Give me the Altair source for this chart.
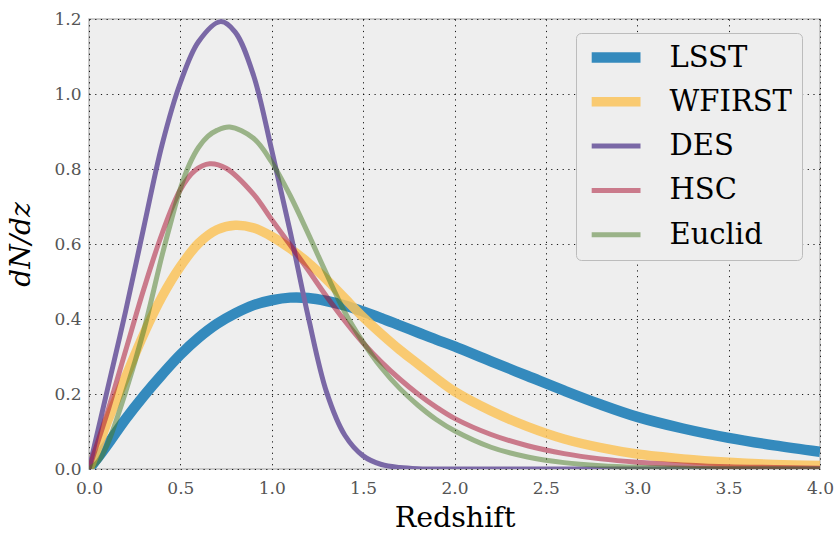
import altair as alt
import pandas as pd

series_names = ["LSST", "WFIRST", "DES", "HSC", "Euclid"]
series_colors = ["#348ABD", "rgba(250,195,90,0.85)", "#7A68A6",
                 "rgba(166,6,40,0.5)", "rgba(70,120,33,0.5)"]
series_widths = [10.5, 9.5, 5, 5, 5]

x_ticks = [0.0, 0.5, 1.0, 1.5, 2.0, 2.5, 3.0, 3.5, 4.0]
y_ticks = [0.0, 0.2, 0.4, 0.6, 0.8, 1.0, 1.2]

lsst_z = [0, 0.05, 0.1, 0.2, 0.3, 0.4, 0.5, 0.6, 0.7, 0.8, 0.9, 1.0, 1.1, 1.2, 1.3, 1.4,
          1.5, 1.6, 1.7, 1.8, 1.9, 2.0, 2.2, 2.4, 2.6, 2.8, 3.0, 3.25, 3.5, 3.75, 4.0]
lsst_v = [0, 0.031, 0.064, 0.133, 0.195, 0.252, 0.305, 0.35, 0.387, 0.415, 0.437, 0.45,
          0.457, 0.456, 0.448, 0.436, 0.42, 0.402, 0.383, 0.364, 0.345, 0.327, 0.287,
          0.248, 0.209, 0.172, 0.139, 0.108, 0.083, 0.063, 0.046]

wfirst_z = [0, 0.05, 0.1, 0.2, 0.3, 0.4, 0.5, 0.6, 0.7, 0.8, 0.9, 1.0, 1.1, 1.2, 1.3, 1.4,
            1.5, 1.6, 1.7, 1.8, 1.9, 2.0, 2.2, 2.4, 2.6, 2.8, 3.0, 3.25, 3.5, 3.75, 4.0]
wfirst_v = [0, 0.06, 0.125, 0.245, 0.36, 0.46, 0.54, 0.602, 0.638, 0.65, 0.643, 0.62,
            0.588, 0.55, 0.505, 0.455, 0.405, 0.36, 0.318, 0.28, 0.242, 0.207, 0.155,
            0.113, 0.08, 0.057, 0.04, 0.027, 0.018, 0.012, 0.009]

des_z = [0, 0.05, 0.1, 0.2, 0.3, 0.4, 0.5, 0.6, 0.72, 0.8, 0.9, 1.0, 1.1, 1.2, 1.3, 1.4,
         1.5, 1.6, 1.7, 1.8, 2.0, 2.5, 3.0, 3.5, 4.0]
des_v = [0, 0.105, 0.21, 0.42, 0.645, 0.865, 1.03, 1.14, 1.193, 1.165, 1.05, 0.85, 0.635,
         0.405, 0.205, 0.09, 0.035, 0.012, 0.004, 0.001, 0, 0, 0, 0, 0]

hsc_z = [0, 0.05, 0.1, 0.2, 0.3, 0.4, 0.5, 0.58, 0.66, 0.75, 0.9, 1.0, 1.1, 1.2, 1.3, 1.4,
         1.5, 1.6, 1.7, 1.8, 1.9, 2.0, 2.2, 2.4, 2.6, 2.8, 3.0, 3.25, 3.5, 3.75, 4.0]
hsc_v = [0, 0.075, 0.15, 0.315, 0.48, 0.628, 0.745, 0.796, 0.814, 0.802, 0.733, 0.665,
         0.598, 0.53, 0.46, 0.395, 0.336, 0.285, 0.24, 0.2, 0.165, 0.135, 0.092, 0.062,
         0.041, 0.027, 0.018, 0.011, 0.006, 0.004, 0.002]

euclid_z = [0, 0.05, 0.1, 0.2, 0.3, 0.4, 0.45, 0.5, 0.55, 0.6, 0.65, 0.7, 0.77, 0.9, 1.0,
            1.1, 1.2, 1.3, 1.4, 1.5, 1.6, 1.7, 1.8, 1.9, 2.0, 2.2, 2.4, 2.6, 2.8, 3.0,
            3.5, 4.0]
euclid_v = [0, 0.02, 0.065, 0.205, 0.37, 0.57, 0.662, 0.748, 0.813, 0.858, 0.887, 0.903,
            0.912, 0.882, 0.818, 0.73, 0.627, 0.52, 0.418, 0.338, 0.27, 0.215, 0.17,
            0.132, 0.102, 0.058, 0.032, 0.017, 0.009, 0.005, 0.001, 0]

rows = []
for name, zs, vs in [("LSST", lsst_z, lsst_v), ("WFIRST", wfirst_z, wfirst_v),
                     ("DES", des_z, des_v), ("HSC", hsc_z, hsc_v),
                     ("Euclid", euclid_z, euclid_v)]:
    for z, v in zip(zs, vs):
        rows.append({"series": name, "z": z, "dndz": v})
df = pd.DataFrame(rows)

SERIF = "DejaVu Serif"

legend = alt.Legend(
    title=None, orient="none", legendX=487, legendY=14,
    symbolType="M-2.2,0H10", symbolSize=64, labelFont=SERIF, labelFontSize=29,
    labelColor="black", labelOffset=54.5, padding=10, fillColor="#EEEEEE",
    strokeColor="#BCBCBC", cornerRadius=5, rowPadding=14.3, clipHeight=29
)

base = alt.Chart(df).mark_line(interpolate="catmull-rom", clip=True, strokeCap="butt",
                               strokeJoin="round").encode(
    x=alt.X("z:Q", scale=alt.Scale(domain=[0, 4], nice=False, zero=False),
            axis=alt.Axis(values=x_ticks, format=".1f", title="Redshift",
                          titleX=365.5, titleY=57, titleBaseline="alphabetic",
                          titleAlign="center", titleFontSize=28.5, labelPadding=11)),
    y=alt.Y("dndz:Q", scale=alt.Scale(domain=[0, 1.2], nice=False),
            axis=alt.Axis(values=y_ticks, format=".1f", title="dN/dz",
                          titleFontStyle="italic", titleFontSize=28, titleX=-68,
                          titleY=225, titleBaseline="middle", titleAlign="center",
                          labelPadding=8)),
    color=alt.Color("series:N", scale=alt.Scale(domain=series_names, range=series_colors),
                    sort=series_names, legend=legend),
    strokeWidth=alt.StrokeWidth("series:N",
                                scale=alt.Scale(type="ordinal", domain=series_names,
                                                range=series_widths),
                                sort=series_names, legend=legend),
)

layers = [base.transform_filter(alt.datum.series == s) for s in series_names]

chart = alt.layer(*layers).properties(
    width=731, height=450,
    padding={"left": 89, "top": 19, "right": 18, "bottom": 64},
    autosize=alt.AutoSizeParams(type="none"),
    background="white",
).configure_view(
    fill="#EEEEEE", stroke="#BCBCBC", strokeWidth=1.5
).configure_axis(
    labelFont=SERIF, labelFontSize=17, labelColor="#555555",
    titleFont=SERIF, titleColor="black", titleFontWeight="normal",
    ticks=False, tickSize=0, domain=False, labelFlush=False,
    grid=True, gridColor="black", gridDash=[1.2, 4.5], gridWidth=1, gridOpacity=0.9,
)

chart.save("out.html", embed_options={"renderer": "svg", "actions": False})
